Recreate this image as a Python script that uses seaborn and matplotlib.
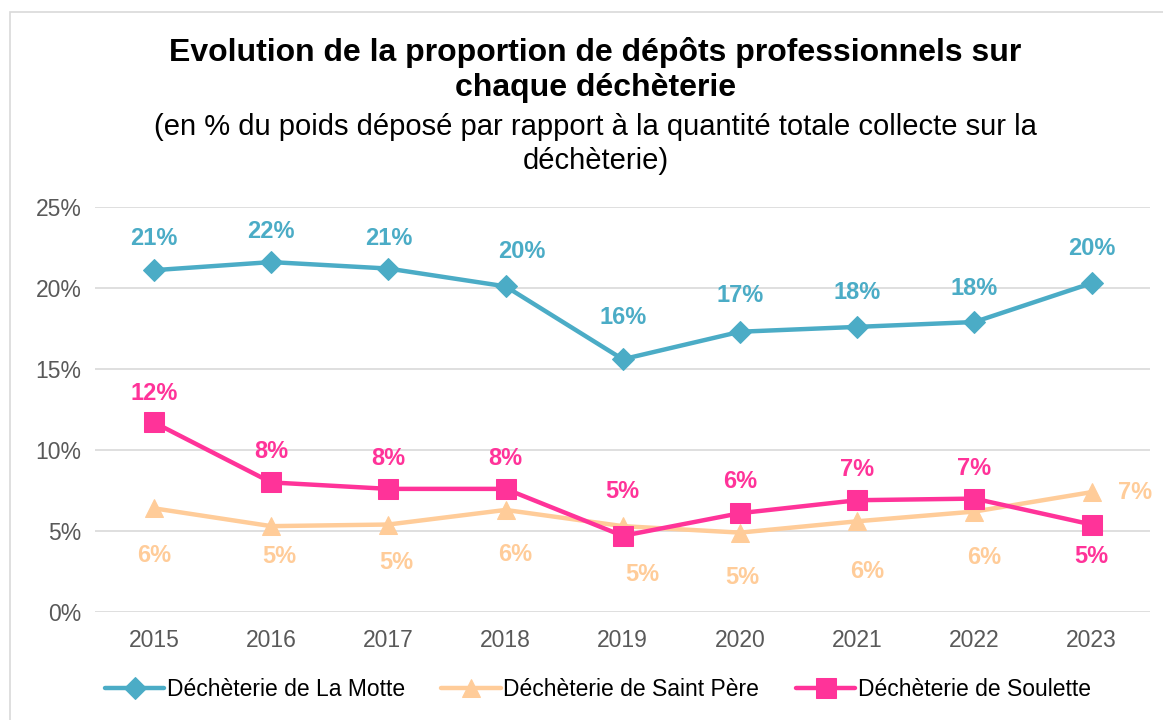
import matplotlib
matplotlib.use("Agg")
import matplotlib.pyplot as plt
import seaborn as sns
import pandas as pd
from matplotlib.patches import Rectangle
from matplotlib.ticker import FuncFormatter

years = ["2015", "2016", "2017", "2018", "2019", "2020", "2021", "2022", "2023"]
la_motte = [21.1, 21.6, 21.2, 20.1, 15.6, 17.3, 17.6, 17.9, 20.3]
saint_pere = [6.4, 5.3, 5.4, 6.3, 5.3, 4.9, 5.6, 6.2, 7.4]
soulette = [11.7, 8.0, 7.6, 7.6, 4.7, 6.1, 6.9, 7.0, 5.4]
series_names = ["Déchèterie de La Motte", "Déchèterie de Saint Père", "Déchèterie de Soulette"]
title = "Evolution de la proportion de dépôts professionnels sur\nchaque déchèterie"
subtitle = "(en % du poids déposé par rapport à la quantité totale collecte sur la\ndéchèterie)"

colors = ["#4BACC6", "#FFCC99", "#FF3399"]
markers = ["D", "^", "s"]
msizes = [11, 13, 14]

rows = []
for name, vals in zip(series_names, [la_motte, saint_pere, soulette]):
    for i, (y, v) in enumerate(zip(years, vals)):
        rows.append({"x": i, "year": y, "value": v, "series": name})
df = pd.DataFrame(rows)

sns.set_theme(style="white")
plt.rcParams['font.family'] = ['Liberation Sans', 'DejaVu Sans']

fig = plt.figure(figsize=(11.63, 7.2), dpi=100)
ax = fig.add_axes([0.082, 0.15, 0.907, 0.5625])

for name, c, m, ms in zip(series_names, colors, markers, msizes):
    sub = df[df.series == name]
    sns.lineplot(data=sub, x="x", y="value", ax=ax, color=c, marker=m,
                 markersize=ms, markeredgecolor=c, linewidth=3.2, label=name)

# data label offsets (points)
offsets = {
    series_names[0]: [(0, 23), (0, 22), (0, 22), (12, 25), (0, 30), (0, 26), (0, 25), (0, 24), (0, 25)],
    series_names[1]: [(0, -34), (6, -22), (6, -27), (7, -32), (14, -35), (2, -32), (7, -36), (7, -33), (31, 0)],
    series_names[2]: [(0, 21), (0, 22), (0, 22), (0, 22), (0, 32), (0, 23), (0, 22), (0, 22), (0, -23)],
}
for name, vals, c in zip(series_names, [la_motte, saint_pere, soulette], colors):
    for i, v in enumerate(vals):
        dx, dy = offsets[name][i]
        ax.annotate(f"{round(v):.0f}%", (i, v), xytext=(dx, dy), textcoords="offset points",
                    ha="center", va="center", fontsize=17, fontweight="bold", color=c)

ax.set_xlim(-0.5, 8.5)
ax.set_ylim(0, 25)
ax.set_yticks([0, 5, 10, 15, 20, 25])
ax.yaxis.set_major_formatter(FuncFormatter(lambda v, p: f"{v:.0f}%"))
ax.set_xticks(range(len(years)))
ax.set_xticklabels(years)
ax.tick_params(axis="both", colors="#595959", labelsize=16.5, length=0)
ax.tick_params(axis="x", pad=12)
ax.tick_params(axis="y", pad=10)
ax.grid(axis="y", color="#D9D9D9", linewidth=1.2)
ax.grid(axis="x", visible=False)
for s in ax.spines.values():
    s.set_visible(False)
ax.set_xlabel("")
ax.set_ylabel("")

handles, labels = ax.get_legend_handles_labels()
ax.get_legend().remove()
leg = fig.legend(handles, labels, loc="center", bbox_to_anchor=(0.514, 0.042), ncol=3,
                 frameon=False, fontsize=16.5, handlelength=2.6, handletextpad=0.1,
                 columnspacing=1.6)
for t in leg.get_texts():
    t.set_color("black")

fig.text(0.512, 0.903, title, ha="center", va="center", fontsize=23, fontweight="bold",
         color="black", linespacing=1.22)
fig.text(0.512, 0.80, subtitle, ha="center", va="center", fontsize=21, color="black",
         linespacing=1.3)

fig.patches.append(Rectangle((0.009, -0.01), 1.1, 0.993, transform=fig.transFigure,
                             fill=False, edgecolor="#D9D9D9", linewidth=1.2))

fig.savefig("out.png", dpi=100)
